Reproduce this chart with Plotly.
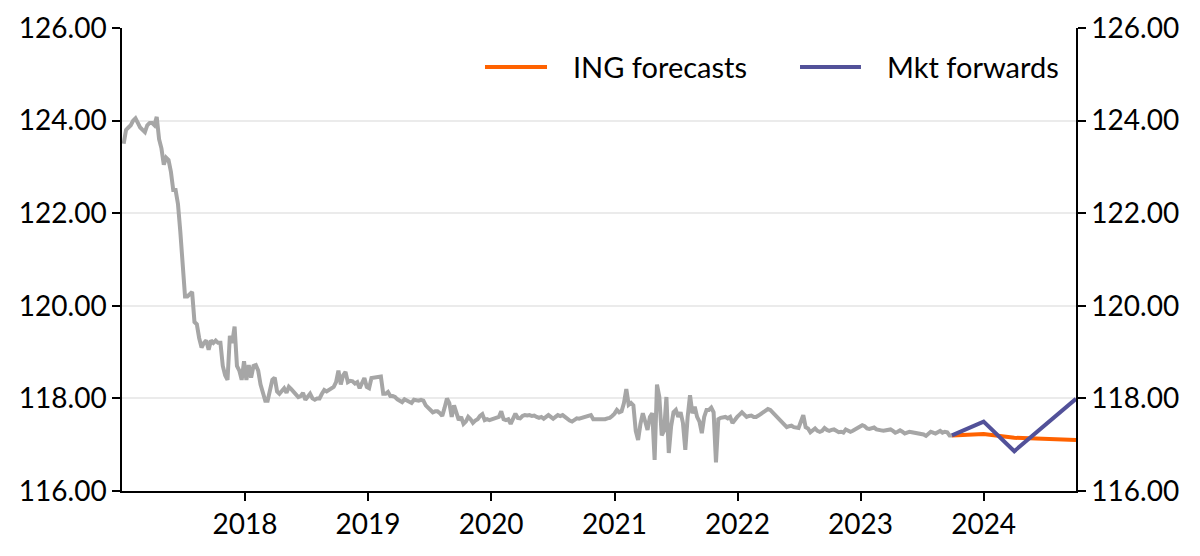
import plotly.graph_objects as go
import pandas as pd

# weekly spot history (Fridays)
hist_start = "2017-01-06"
hist_2017 = [123.5, 123.8, 123.85, 123.9, 124.0, 124.05, 123.95, 123.85, 123.8, 123.75,
             123.9, 123.95, 123.95, 123.9, 124.08, 123.6, 123.4, 123.05, 123.2, 123.15,
             122.9, 122.5, 122.5, 122.2, 121.6, 120.8, 120.2, 120.2, 120.25, 120.3,
             119.65, 119.6, 119.3, 119.1, 119.2, 119.25, 119.05, 119.25, 119.2, 119.25,
             119.2, 119.2, 118.7, 118.5, 118.4, 119.35, 119.2, 119.55, 118.7, 118.6,
             118.4, 118.8]
hist_2018 = [118.4, 118.72, 118.45, 118.7, 118.72, 118.6, 118.3, 118.1, 117.95, 117.95,
             118.2, 118.4, 118.45, 118.15, 118.1, 118.15, 118.22, 118.12, 118.25, 118.2,
             118.15, 118.1, 118.03, 118.05, 118.12, 117.97, 118.05, 118.1, 118.0, 117.97,
             118.0, 118.0, 118.1, 118.18, 118.15, 118.18, 118.2, 118.25, 118.35, 118.6,
             118.3, 118.5, 118.57, 118.35, 118.38, 118.37, 118.32, 118.35, 118.22, 118.35,
             118.44, 118.25]
hist_2019 = [118.22, 118.44, 118.45, 118.44, 118.46, 118.47, 118.1, 118.1, 118.14, 118.05,
             118.05, 118.03, 117.98, 117.95, 117.92, 117.98, 117.95, 117.92, 117.9, 117.97,
             117.95, 117.95, 117.97, 117.95, 117.85, 117.8, 117.75, 117.7, 117.72, 117.72,
             117.68, 117.62, 117.8, 118.0, 117.9, 117.6, 117.85, 117.7, 117.53, 117.6,
             117.45, 117.5, 117.6, 117.55, 117.47, 117.52, 117.55, 117.62, 117.66, 117.53,
             117.55, 117.53]
hist_2020 = [117.55, 117.57, 117.57, 117.6, 117.72, 117.55, 117.53, 117.55, 117.45, 117.55,
             117.67, 117.58, 117.57, 117.62, 117.64, 117.63, 117.64, 117.62, 117.63, 117.6,
             117.58, 117.6, 117.56, 117.6, 117.64, 117.6, 117.56, 117.6, 117.64, 117.62,
             117.64, 117.6, 117.55, 117.52, 117.5, 117.55, 117.57, 117.56, 117.58, 117.6,
             117.62, 117.62, 117.64, 117.55, 117.55, 117.53, 117.55, 117.53, 117.55, 117.57,
             117.58, 117.62]
hist_2021 = [117.67, 117.75, 117.7, 117.72, 117.9, 118.2, 117.86, 117.9, 117.85, 117.3,
             117.1, 117.45, 117.68, 117.5, 117.32, 117.6, 117.68, 116.67, 118.3, 118.03,
             117.2, 117.3, 118.03, 116.82, 117.4, 117.7, 117.75, 117.6, 117.7, 117.47,
             116.89, 117.6, 118.07, 117.68, 117.82, 117.6, 117.5, 117.25, 117.6, 117.75,
             117.75, 117.8, 117.7, 116.62, 117.55, 117.58, 117.58, 117.6, 117.57, 117.6,
             117.47, 117.55]
hist_2022 = [117.6, 117.65, 117.7, 117.65, 117.6, 117.62, 117.63, 117.6, 117.6, 117.63,
             117.67, 117.69, 117.74, 117.77, 117.75, 117.7, 117.63, 117.58, 117.55, 117.5,
             117.45, 117.38, 117.4, 117.41, 117.38, 117.38, 117.36, 117.5, 117.64, 117.38,
             117.35, 117.27, 117.3, 117.35, 117.3, 117.28, 117.3, 117.36, 117.32, 117.3,
             117.32, 117.33, 117.3, 117.27, 117.28, 117.26, 117.33, 117.3, 117.28, 117.3,
             117.33, 117.36]
hist_2023 = [117.4, 117.42, 117.4, 117.35, 117.34, 117.36, 117.37, 117.33, 117.31, 117.31,
             117.3, 117.31, 117.33, 117.33, 117.3, 117.26, 117.28, 117.31, 117.28, 117.24,
             117.26, 117.28, 117.27, 117.26, 117.26, 117.25, 117.24, 117.22, 117.19, 117.23,
             117.28, 117.26, 117.24, 117.27, 117.3, 117.26, 117.28, 117.27, 117.2, 117.2]

hist = hist_2017 + hist_2018 + hist_2019 + hist_2020 + hist_2021 + hist_2022 + hist_2023
hist_dates = pd.date_range(hist_start, periods=len(hist), freq="7D")

fc_dates = ["2023-09-29", "2024-01-01", "2024-04-01", "2024-10-01"]
ing_fc = [117.2, 117.23, 117.15, 117.1]
mkt_fwd = [117.2, 117.5, 116.86, 117.99]

y_ticks = [116, 118, 120, 122, 124, 126]
y_labels = ["%.2f" % v for v in y_ticks]
x_ticks = ["2018-01-01", "2019-01-01", "2020-01-01", "2021-01-01",
           "2022-01-01", "2023-01-01", "2024-01-01"]
x_labels = ["2018", "2019", "2020", "2021", "2022", "2023", "2024"]

legend_names = ["ING forecasts", "Mkt forwards"]

FONT = "Lato"
GREY = "#a6a6a6"
ORANGE = "#ff6200"
PURPLE = "#525199"

fig = go.Figure()

fig.add_trace(go.Scatter(x=hist_dates, y=hist, mode="lines", showlegend=False,
                         line=dict(color=GREY, width=4), hoverinfo="skip"))
fig.add_trace(go.Scatter(x=fc_dates, y=ing_fc, mode="lines", name=legend_names[0],
                         showlegend=False, line=dict(color=ORANGE, width=4)))
fig.add_trace(go.Scatter(x=fc_dates, y=mkt_fwd, mode="lines", name=legend_names[1],
                         showlegend=False, line=dict(color=PURPLE, width=4)))
# invisible trace to carry the right-hand axis
fig.add_trace(go.Scatter(x=fc_dates, y=mkt_fwd, yaxis="y2", mode="lines",
                         line=dict(width=0), showlegend=False, hoverinfo="skip"))

# hand-made legend (longer keys than plotly's own)
legend_y = 0.916
for (x0, x1, xt), name, col in zip([(0.3805, 0.4455, 0.4706), (0.7107, 0.7746, 0.7998)],
                                   legend_names, [ORANGE, PURPLE]):
    fig.add_shape(type="line", xref="paper", yref="paper", x0=x0, x1=x1,
                  y0=legend_y, y1=legend_y, line=dict(color=col, width=4))
    fig.add_annotation(xref="paper", yref="paper", x=xt, y=legend_y, text=name,
                       showarrow=False, xanchor="left", yanchor="middle",
                       font=dict(family=FONT, size=29, color="#000000"))

axis_font = dict(family=FONT, size=28, color="#000000")
axis_common = dict(
    showline=True, linecolor="#000000", linewidth=1.5, zeroline=False,
    ticks="outside", ticklen=8, tickcolor="#000000", tickwidth=1.5,
    tickfont=axis_font, automargin=False,
)

# page body adds an 8px offset, so margins are trimmed to land the plot area where it belongs
fig.update_layout(
    width=1200, height=556,
    margin=dict(l=114, r=132, t=20, b=73),
    paper_bgcolor="white", plot_bgcolor="white",
    font=dict(family=FONT, size=28, color="#000000"),
    xaxis=dict(range=["2017-01-01", "2024-10-01"], tickvals=x_ticks, ticktext=x_labels,
               showgrid=False, **axis_common),
    yaxis=dict(range=[116, 126], tickvals=y_ticks, ticktext=y_labels,
               showgrid=True, gridcolor="#ebebeb", gridwidth=1.5, **axis_common),
    yaxis2=dict(range=[116, 126], overlaying="y", side="right",
                tickvals=y_ticks, ticktext=y_labels, showgrid=False, **axis_common),
    showlegend=False,
    hovermode=False,
)

fig.write_html("out.html")
